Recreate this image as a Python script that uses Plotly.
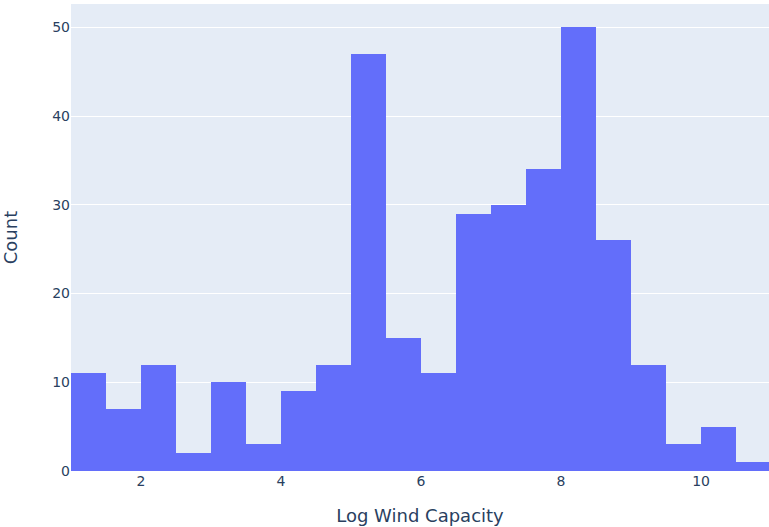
import plotly.graph_objects as go

bin_starts = [1.0, 1.5, 2.0, 2.5, 3.0, 3.5, 4.0, 4.5, 5.0, 5.5, 6.0, 6.5, 7.0, 7.5, 8.0, 8.5, 9.0, 9.5, 10.0, 10.5]
counts = [11, 7, 12, 2, 10, 3, 9, 12, 47, 15, 11, 29, 30, 34, 50, 26, 12, 3, 5, 1]
bin_width = 0.5

fig = go.Figure(go.Bar(
    x=[b + bin_width / 2 for b in bin_starts],
    y=counts,
    width=[bin_width] * len(counts),
    marker=dict(color="#636efa", line=dict(width=0)),
))
fig.update_layout(
    template="plotly",
    width=769, height=527,
    margin=dict(l=71, r=0, t=4, b=56),
    bargap=0,
    font=dict(family="DejaVu Sans, Verdana, sans-serif", size=14, color="#2a3f5f"),
    xaxis=dict(title=dict(text="Log Wind Capacity", font=dict(size=18), standoff=21), range=[1, 10.97],
               tickvals=[2, 4, 6, 8, 10]),
    yaxis=dict(title=dict(text="Count", font=dict(size=18), standoff=29), range=[0, 52.63],
               tickvals=[0, 10, 20, 30, 40, 50]),
)
fig.write_html("out.html")
